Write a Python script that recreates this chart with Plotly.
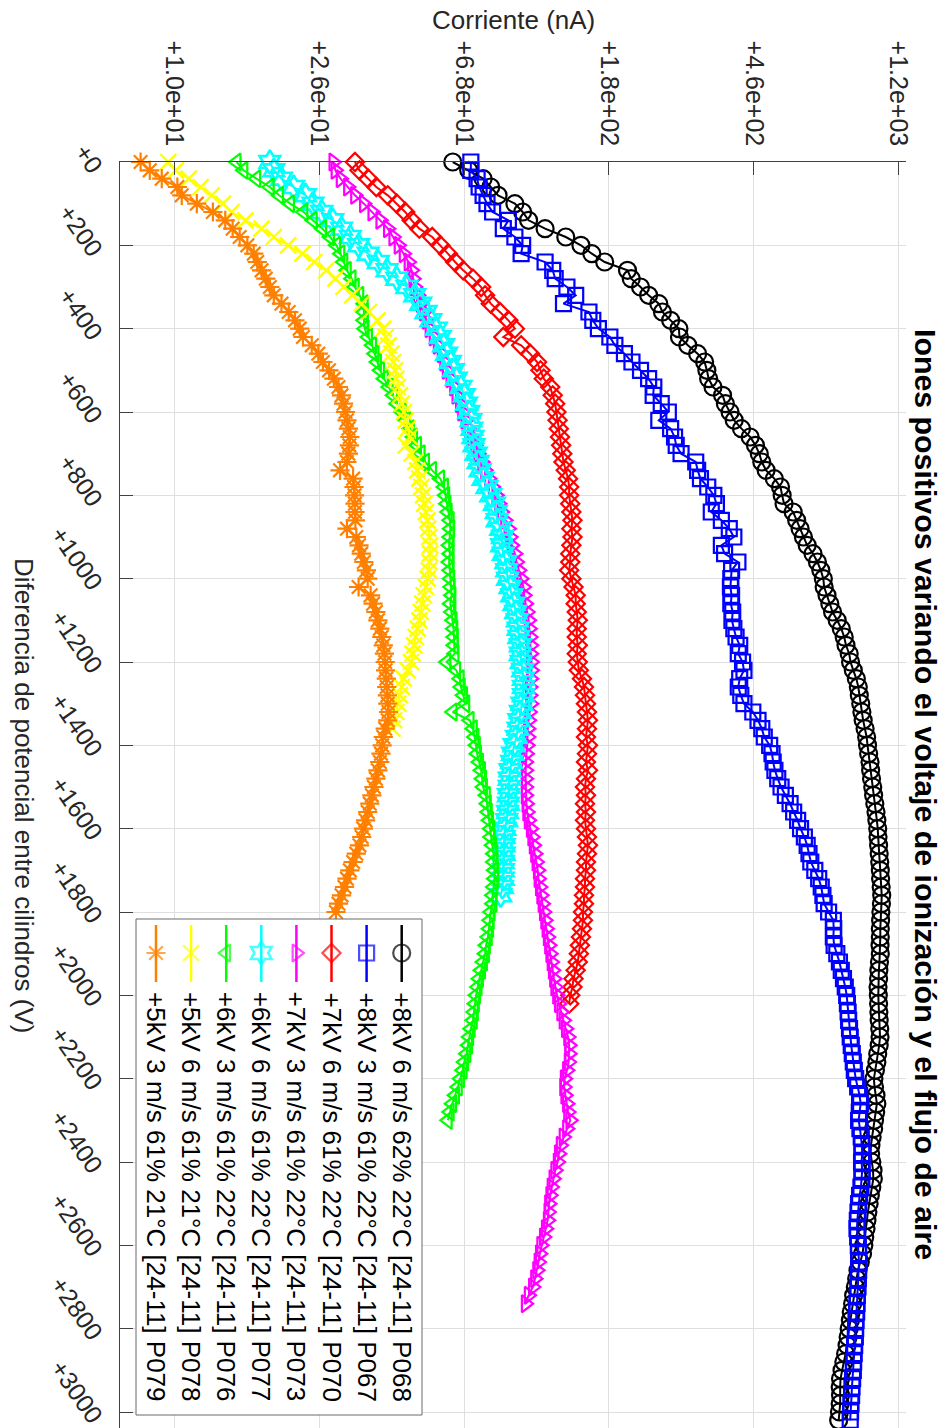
import plotly.graph_objects as go

# ---------------- data ----------------
v_black = list(range(0, 3021, 20))
i_black = [63, 70, 77, 81, 85, 95, 100, 104, 116, 133,
           147, 158, 172, 200, 205, 218, 230, 246, 252, 266,
           281, 282, 298, 318, 333, 338, 342, 352, 375, 382,
           394, 405, 425, 450, 466, 478, 486, 500, 528, 550,
           556, 563, 598, 612, 626, 640, 656, 682, 702, 718,
           730, 734, 748, 762, 776, 800, 822, 838, 848, 866,
           874, 890, 908, 920, 926, 935, 942, 950, 962, 972,
           978, 985, 994, 998, 1004, 1012, 1018, 1026, 1034, 1040,
           1046, 1048, 1052, 1056, 1060, 1064, 1066, 1070, 1074, 1072,
           1068, 1066, 1064, 1064, 1062, 1064, 1058, 1054, 1052, 1048,
           1050, 1052, 1054, 1056, 1060, 1062, 1056, 1046, 1040, 1030,
           1020, 1024, 1034, 1040, 1032, 1024, 1018, 1008, 1000, 998,
           1006, 1014, 1016, 1006, 996, 988, 980, 974, 968, 960,
           954, 946, 932, 918, 910, 902, 892, 886, 878, 873,
           866, 860, 854, 846, 836, 826, 818, 816, 818, 816,
           812, 808]

v_blue = list(range(0, 3021, 20))
i_blue = [71, 71, 74, 75, 77, 79, 82, 91, 88, 95,
          100, 99, 116, 122, 124, 134, 142, 131, 155, 159,
          165, 178, 184, 196, 206, 218, 230, 238, 237, 250,
          262, 246, 266, 273, 276, 285, 314, 318, 324, 340,
          354, 360, 348, 372, 392, 404, 372, 380, 415, 398,
          396, 395, 398, 396, 401, 399, 404, 410, 420, 416,
          428, 432, 420, 416, 423, 432, 458, 474, 486, 494,
          512, 520, 524, 530, 540, 552, 568, 586, 600, 616,
          628, 644, 656, 664, 672, 690, 708, 720, 728, 734,
          756, 780, 782, 780, 784, 798, 812, 822, 834, 844,
          852, 856, 860, 863, 868, 872, 878, 884, 890, 896,
          904, 916, 928, 934, 926, 922, 930, 938, 942, 944,
          940, 944, 942, 936, 928, 922, 918, 914, 912, 916,
          920, 922, 924, 922, 920, 918, 914, 912, 910, 906,
          904, 902, 898, 895, 892, 890, 886, 882, 880, 876,
          874, 872]

v_red = list(range(0, 2021, 20))
i_red = [33, 34, 36, 38, 41, 43.5, 46, 48, 50.5, 55,
         58, 61, 64, 67.5, 72, 76, 78, 81, 86, 91,
         95, 88, 99, 105, 110, 112.5, 115, 120, 122, 124,
         125, 126, 127, 128, 129, 130, 131, 133, 135, 136,
         136, 137, 138, 139, 138, 139, 138, 137, 137, 136,
         138, 140, 142, 142, 143, 144, 143, 143, 144, 143,
         144, 145, 148, 150, 151, 152, 153, 154, 153, 152,
         154, 153, 152, 154, 152, 151, 152, 151, 152, 151,
         152, 153, 154, 153, 152, 152, 151, 151, 150, 150,
         149, 149, 148, 147, 146, 145, 144, 142, 140, 139,
         137, 136]

v_magenta = list(range(0, 2741, 20))
i_magenta = [28.6, 29, 30, 31.5, 33, 35, 37, 39, 41, 42.5,
             44, 45.5, 47, 48, 48.5, 49, 50, 51, 52, 53,
             54, 55.5, 57, 58.5, 59.5, 60.5, 62, 63.5, 64.5, 66,
             67, 68.5, 70, 71.5, 73, 74.5, 76.5, 78, 80, 82,
             84, 85.5, 87, 89, 91, 92, 93, 95, 96, 97.5,
             99, 100.5, 101, 102, 103, 104, 104.5, 105, 105.5, 105.5,
             106, 106, 105.5, 105, 105, 105.5, 104.5, 104, 103.5, 103.5,
             103, 102.5, 102, 102, 102, 102, 102, 102.5, 103, 104,
             105.5, 106.5, 107.5, 108.5, 109.5, 110.5, 111, 112, 113, 114,
             115, 116, 117, 118, 119, 120, 121, 122, 123, 124,
             125.5, 127, 129, 131, 133, 135, 136, 136, 135.5, 134,
             132, 131.5, 132.5, 134, 135, 137, 134, 131, 128.5, 127,
             126, 124, 122.5, 121, 120, 119, 118.5, 118, 116.5, 115,
             113, 112, 111, 110, 108.5, 107, 104, 102]

v_cyan = list(range(0, 1761, 20))
i_cyan = [18.8, 19.3, 20.3, 22, 23.8, 25, 26.5, 28.5, 30.2, 32,
          33.8, 36, 38.5, 40.8, 43.5, 46.5, 49, 51, 52.8, 54.5,
          56.5, 58, 59.3, 60.5, 62, 63.3, 64.5, 66.5, 68, 69,
          70, 71, 71.5, 72, 72.5, 73.5, 74.5, 75.5, 77, 79,
          81, 83, 84, 84.5, 86.5, 87.5, 87, 88, 89.5, 90,
          90.5, 92, 93, 94.5, 95.5, 96.5, 97, 97.5, 98.5, 98.5,
          99, 100, 100.5, 100.5, 100.5, 99.5, 98.5, 97.5, 97, 96,
          94.5, 93.5, 93, 92, 91.5, 91.5, 91, 91, 90.5, 90,
          89, 88.5, 88.5, 88.5, 88, 88, 88, 87.5, 86.5]

v_green = list(range(0, 2301, 20))
i_green = [15.1, 15.8, 17.2, 18.8, 20, 21.5, 23.5, 25, 26.6, 28,
           29.2, 30, 30.6, 31.3, 32.3, 33, 34, 35, 35, 35,
           35.2, 36, 37, 37.6, 38.2, 39, 40, 41.3, 42.5, 43.5,
           45, 46.3, 47.5, 48.5, 49.8, 51, 52.5, 55, 58, 59.5,
           60, 60.5, 61, 61.8, 62, 61.8, 61.5, 61.8, 61.5, 61.8,
           62, 62.2, 62.5, 62, 62.5, 63, 63.3, 63.5, 63.5, 63.8,
           60.5, 64.5, 66, 66.5, 67.5, 68.5, 63, 70.5, 72, 72.8,
           73.5, 74, 75, 76, 76.5, 77, 78.5, 79, 79.5, 80.2,
           80.8, 81, 81.8, 82.5, 82.5, 83, 83, 82.5, 82, 82,
           81, 80.5, 80.2, 79.5, 78.5, 78, 77, 76, 75, 74.3,
           73.5, 73, 72.5, 72, 71, 70.3, 69.8, 69, 68, 67.3,
           66.2, 65.2, 64, 62.8, 61.8, 61]

v_yellow = list(range(0, 1361, 20))
i_yellow = [9.6, 10.1, 11, 11.9, 12.8, 13.8, 14.6, 16, 17.8, 19.3,
            21.2, 23.3, 25.2, 27.3, 29, 30.6, 32.4, 34.5, 36.2, 38.3,
            39.8, 40.5, 41.2, 42, 42.5, 43, 43.4, 43.8, 44.4, 45,
            45.6, 46.2, 46.8, 47.4, 46.2, 48, 49.2, 49.8, 50.5, 51.2,
            51.8, 52.2, 52.8, 53.3, 53.6, 54, 54.2, 54.2, 54, 53.8,
            53.4, 52.8, 52, 51.5, 51, 50.5, 50, 49.3, 48.8, 48.3,
            47.8, 46.8, 45.6, 45, 44.4, 43.9, 43.4, 42.8, 42.3]

v_orange = list(range(0, 1801, 20))
i_orange = [8.0, 8.5, 9.2, 10.2, 10.5, 11.6, 12.9, 14, 14.7, 15.4,
            16.2, 16.9, 17.3, 17.8, 18.3, 18.8, 19.3, 20.3, 21.3, 22.2,
            22.9, 23.4, 24.8, 25.9, 26.7, 27.8, 28.7, 29.6, 30.2, 30.6,
            31, 31.3, 31.6, 31.9, 31.8, 31.6, 31.3, 29.9, 32.6, 32.8,
            32.9, 33, 33, 33.1, 31.3, 33.3, 33.9, 34.4, 35, 35.6,
            35.9, 33.8, 36.6, 37.2, 37.9, 38.4, 38.9, 39.4, 39.8, 40.1,
            40.3, 40.4, 40.6, 40.7, 40.9, 41, 41.2, 41, 40.3, 39.8,
            39.5, 39.2, 38.9, 38.4, 37.9, 37.4, 36.9, 36.4, 35.9, 35.4,
            34.9, 34.5, 34, 33.3, 32.6, 31.9, 31.3, 30.8, 30.2, 29.6, 29.1]

legend_labels = [
    "+8kV 6 m/s 62% 22°C [24-11] P068",
    "+8kV 3 m/s 61% 22°C [24-11] P067",
    "+7kV 6 m/s 61% 22°C [24-11] P070",
    "+7kV 3 m/s 61% 22°C [24-11] P073",
    "+6kV 6 m/s 61% 22°C [24-11] P077",
    "+6kV 3 m/s 61% 22°C [24-11] P076",
    "+5kV 6 m/s 61% 21°C [24-11] P078",
    "+5kV 3 m/s 61% 21°C [24-11] P079",
]

current_ticks = [10, 26.05, 67.86, 176.8, 460.6, 1200]
current_ticktext = ["+1.0e+01", "+2.6e+01", "+6.8e+01", "+1.8e+02", "+4.6e+02", "+1.2e+03"]
volt_ticks = list(range(0, 3001, 200))
volt_ticktext = ["+%d" % v for v in volt_ticks]

title_text = "Iones positivos variando el voltaje de ionización y el flujo de aire"
xlabel_text = "Corriente (nA)"
ylabel_text = "Diferencia de potencial entre cilindros (V)"

# ---------------- styling ----------------
FONT = "Liberation Sans, Arial, sans-serif"
AX = "#404040"
GRID = "#dfdfdf"

styles = [
    ("#000000", "circle-open", 17, 2.2),
    ("#0000ff", "square-open", 15, 2.2),
    ("#ff0000", "diamond-open", 14, 2.2),
    ("#ff00ff", "triangle-right-open", 15, 2.2),
    ("#00ffff", "hexagram-open", 18, 2.6),
    ("#00ff00", "triangle-left-open", 15, 2.2),
    ("#ffff00", "x-thin-open", 16, 2.4),
    ("#ff8000", "asterisk-open", 16, 2.2),
]
data = [
    (v_black, i_black), (v_blue, i_blue), (v_red, i_red), (v_magenta, i_magenta),
    (v_cyan, i_cyan), (v_green, i_green), (v_yellow, i_yellow), (v_orange, i_orange),
]

W, H = 942, 1428
L, R, T, B = 120, 906, 162, 1428  # plot area in pixels

fig = go.Figure()
for (v, cur), (col, sym, sz, lw), lab in zip(data, styles, legend_labels):
    fig.add_trace(go.Scatter(
        x=cur, y=v, mode="lines+markers", name=lab, showlegend=False,
        line=dict(color=col, width=2),
        marker=dict(symbol=sym, size=sz, color=col, line=dict(color=col, width=lw)),
        cliponaxis=False, hoverinfo="skip",
    ))

# ---- legend, drawn on an overlay axis measured in pixels ----
box_l, box_r, box_t, box_b = 136, 422, 919, 1415
fig.add_trace(go.Scatter(
    x=[box_l, box_r, box_r, box_l, box_l], y=[box_t, box_t, box_b, box_b, box_t],
    xaxis="x2", yaxis="y2", mode="lines", fill="toself", fillcolor="white",
    line=dict(color="#6a6a6a", width=1), showlegend=False, hoverinfo="skip"))
for k, ((col, sym, sz, lw), lab) in enumerate(zip(styles, legend_labels)):
    cx = 401.7 - 35.1 * k
    fig.add_trace(go.Scatter(
        x=[cx, cx, cx], y=[925, 953, 982], xaxis="x2", yaxis="y2",
        mode="lines+markers", line=dict(color=col, width=2.5),
        marker=dict(symbol=sym, size=[0, sz, 0], color=col, line=dict(color=col, width=lw)),
        showlegend=False, hoverinfo="skip", cliponaxis=False))
    fig.add_annotation(x=cx, y=990, xref="x2", yref="y2", text=lab, textangle=90,
                       showarrow=False, xanchor="center", yanchor="top",
                       font=dict(family=FONT, size=26, color="#000000"))

# titles
fig.add_annotation(x=(926 - L) / (R - L), y=0.5, xref="paper", yref="paper",
                   text="<b>%s</b>" % title_text, textangle=90, showarrow=False,
                   xanchor="center", yanchor="middle",
                   font=dict(family=FONT, size=30.3, color="#000000"))
fig.add_annotation(x=(24 - L) / (R - L), y=0.5, xref="paper", yref="paper",
                   text=ylabel_text, textangle=90, showarrow=False,
                   xanchor="center", yanchor="middle",
                   font=dict(family=FONT, size=26, color="#262626"))
fig.add_annotation(x=0.5, y=(B - 20) / (B - T), xref="paper", yref="paper",
                   text=xlabel_text, showarrow=False,
                   xanchor="center", yanchor="middle",
                   font=dict(family=FONT, size=26, color="#262626"))

fig.update_layout(
    width=W, height=H, autosize=False,
    margin=dict(l=L, r=W - R, t=T, b=H - B, pad=0),
    paper_bgcolor="white", plot_bgcolor="white",
    font=dict(family=FONT, size=25, color="#262626"),
    hovermode=False,
    xaxis=dict(type="log", range=[0.8439, 3.1007], side="top",
               showline=True, linecolor=AX, linewidth=1, mirror=False,
               ticks="inside", ticklen=13, tickcolor=AX, tickwidth=1,
               tickvals=current_ticks, ticktext=current_ticktext, tickangle=90,
               tickfont=dict(family=FONT, size=25, color="#262626"),
               showgrid=True, gridcolor=GRID, gridwidth=1, zeroline=False,
               ticklabelstandoff=6, ticklabeloverflow="allow"),
    yaxis=dict(range=[3038.4, 0], autorange=False,
               showline=True, linecolor=AX, linewidth=1, mirror=False,
               ticks="inside", ticklen=13, tickcolor=AX, tickwidth=1,
               tickvals=volt_ticks, ticktext=volt_ticktext, tickangle=55,
               tickfont=dict(family=FONT, size=25, color="#262626"),
               showgrid=True, gridcolor=GRID, gridwidth=1, zeroline=False,
               ticklabelstandoff=14, ticklabelshift=-10, ticklabeloverflow="allow"),
    xaxis2=dict(overlaying="x", anchor="y2", range=[L, R], visible=False,
                showgrid=False, zeroline=False),
    yaxis2=dict(overlaying="y", anchor="x2", range=[B, T], visible=False,
                showgrid=False, zeroline=False),
)

fig.write_html("out.html")
